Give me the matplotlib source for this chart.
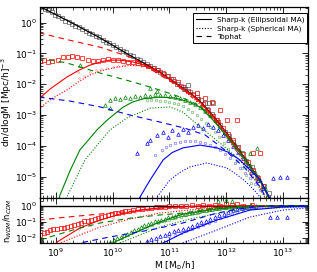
import numpy as np
import matplotlib
matplotlib.use('Agg')
import matplotlib.pyplot as plt
from matplotlib.lines import Line2D

# all values are (log10 M [Msun/h], log10 value)

# ---- upper panel: dn/dlogM ----
cdm_line = [(8.70, 0.55), (8.77, 0.47), (9.25, 0.02), (9.78, -0.50), (10.30, -1.06),
            (10.83, -1.61), (11.24, -2.13), (11.40, -2.33), (11.54, -2.56), (11.66, -2.80),
            (11.77, -3.03), (11.88, -3.28), (11.98, -3.52), (12.10, -3.82), (12.24, -4.17),
            (12.42, -4.65), (12.60, -5.12), (12.74, -5.60), (12.82, -5.90)]

cdm_pts = [(8.74, 0.52), (8.80, 0.44), (8.86, 0.40), (8.92, 0.33), (8.98, 0.26), (9.04, 0.20),
           (9.10, 0.14), (9.16, 0.06), (9.22, 0.02), (9.28, -0.04), (9.34, -0.10), (9.40, -0.15),
           (9.46, -0.22), (9.52, -0.27), (9.58, -0.33), (9.64, -0.38), (9.70, -0.44), (9.76, -0.48),
           (9.82, -0.55), (9.88, -0.62), (9.94, -0.66), (10.00, -0.74), (10.06, -0.79), (10.12, -0.85),
           (10.18, -0.92), (10.24, -0.97), (10.30, -1.04), (10.36, -1.10), (10.42, -1.17), (10.48, -1.22),
           (10.54, -1.29), (10.60, -1.34), (10.66, -1.42), (10.72, -1.47), (10.78, -1.54), (10.84, -1.60),
           (10.90, -1.68), (10.96, -1.74), (11.02, -1.83), (11.08, -1.90), (11.14, -1.98), (11.20, -2.06),
           (11.26, -2.15), (11.33, -2.03), (11.27, -2.16), (11.36, -2.25), (11.42, -2.32), (11.48, -2.41),
           (11.55, -2.50), (11.63, -2.61), (11.70, -2.61), (11.77, -2.61), (11.66, -2.80), (11.75, -2.96),
           (11.83, -3.17), (11.90, -3.33), (11.98, -3.55), (12.05, -3.70), (12.12, -3.88), (12.20, -4.08),
           (12.28, -4.25), (12.36, -4.50), (12.45, -4.70), (12.55, -5.00), (12.66, -5.30), (12.75, -5.55)]

red_solid = [(8.70, -2.47), (8.90, -2.15), (9.19, -1.77), (9.40, -1.55), (9.60, -1.38), (9.80, -1.27),
             (9.95, -1.22), (10.15, -1.22), (10.36, -1.28), (10.60, -1.40), (10.83, -1.62), (11.04, -1.88),
             (11.24, -2.14), (11.40, -2.34), (11.54, -2.58), (11.66, -2.82), (11.77, -3.05), (11.88, -3.30),
             (11.98, -3.54), (12.10, -3.84), (12.24, -4.19), (12.42, -4.67), (12.60, -5.14), (12.74, -5.62),
             (12.82, -5.92)]
red_dot = [(8.70, -2.80), (8.90, -2.50), (9.19, -2.19), (9.40, -1.92), (9.60, -1.70), (9.80, -1.56),
           (10.07, -1.45), (10.30, -1.39), (10.53, -1.40), (10.75, -1.52), (11.01, -1.85), (11.24, -2.18),
           (11.54, -2.65), (11.77, -3.12), (11.98, -3.65), (12.24, -4.32), (12.42, -4.85), (12.60, -5.35),
           (12.72, -5.80)]
red_dash = [(8.70, -0.33), (9.19, -0.55), (9.78, -0.80), (10.36, -1.15), (10.83, -1.70), (11.10, -2.00),
            (11.24, -2.18), (11.40, -2.37), (11.54, -2.59), (11.66, -2.83), (11.77, -3.06), (11.88, -3.31),
            (11.98, -3.55), (12.10, -3.85), (12.24, -4.20), (12.42, -4.68), (12.60, -5.15), (12.74, -5.63),
            (12.82, -5.93)]
red_pts = [(8.72, -1.25), (8.79, -1.22), (8.86, -1.28), (8.93, -1.25), (9.04, -1.22), (9.12, -1.12),
           (9.21, -1.12), (9.28, -1.09), (9.37, -1.12), (9.46, -1.15), (9.56, -1.22), (9.65, -1.25),
           (9.74, -1.25), (9.83, -1.22), (9.92, -1.19), (10.00, -1.22), (10.09, -1.22), (10.18, -1.25),
           (10.27, -1.28), (10.36, -1.28), (10.44, -1.31), (10.53, -1.35), (10.62, -1.41), (10.71, -1.48),
           (10.80, -1.54), (10.89, -1.64), (10.97, -1.74), (11.06, -1.83), (11.15, -1.93), (11.24, -2.09),
           (11.33, -2.22), (11.41, -2.35), (11.50, -2.48), (11.59, -2.64), (11.68, -2.84), (11.77, -3.04),
           (11.85, -3.23), (11.94, -3.43), (12.03, -3.62), (12.12, -3.81), (12.21, -4.04), (12.30, -4.27),
           (12.38, -4.53), (12.47, -4.79), (12.56, -5.05), (12.65, -5.31),
           (11.48, -2.29), (11.63, -2.45), (11.75, -2.58), (11.89, -2.84), (11.84, -3.17), (12.01, -3.17),
           (12.19, -3.17), (12.47, -4.24), (12.60, -4.24)]
red_light = [(9.40, -1.80), (9.50, -1.72), (9.60, -1.62), (9.70, -1.55), (9.80, -1.50), (9.90, -1.46),
             (10.00, -1.43), (10.10, -1.40), (10.20, -1.38), (10.30, -1.36), (10.40, -1.37), (10.50, -1.40),
             (10.60, -1.43), (10.70, -1.50), (10.80, -1.58), (10.90, -1.68), (11.00, -1.80), (11.10, -1.93),
             (11.20, -2.07), (11.30, -2.22), (9.39, -1.61)]

green_solid = [(9.03, -5.90), (9.07, -5.60), (9.25, -4.80), (9.42, -4.14), (9.60, -3.75), (9.72, -3.49),
               (9.90, -3.17), (10.18, -2.75), (10.35, -2.58), (10.55, -2.47), (10.83, -2.42), (11.10, -2.45),
               (11.30, -2.55), (11.54, -2.74), (11.77, -3.17), (11.98, -3.62), (12.24, -4.22), (12.42, -4.68),
               (12.60, -5.15), (12.74, -5.63), (12.82, -5.93)]
green_dot = [(9.15, -5.90), (9.19, -5.67), (9.51, -4.46), (9.95, -3.49), (10.25, -3.10), (10.66, -2.78),
             (11.01, -2.74), (11.24, -2.91), (11.54, -3.39), (11.89, -3.91), (12.24, -4.46), (12.51, -5.11),
             (12.68, -5.67), (12.73, -5.90)]
green_dash = [(8.70, -1.15), (9.19, -1.31), (9.78, -1.64), (10.36, -1.93), (10.83, -2.19), (11.24, -2.45),
              (11.54, -2.70), (11.77, -3.15), (11.98, -3.62), (12.24, -4.25), (12.42, -4.72), (12.60, -5.18),
              (12.74, -5.65), (12.82, -5.95)]
green_pts = [(9.95, -2.52), (10.04, -2.45), (10.13, -2.48), (10.22, -2.42), (10.30, -2.45), (10.39, -2.39),
             (10.48, -2.42), (10.57, -2.35), (10.66, -2.39), (10.74, -2.32), (10.83, -2.35), (10.92, -2.35),
             (11.01, -2.39), (11.10, -2.42), (11.19, -2.45), (11.27, -2.52), (11.36, -2.58), (11.45, -2.65),
             (11.54, -2.74), (11.63, -2.87), (11.71, -3.00), (11.80, -3.17), (11.89, -3.36), (11.98, -3.56),
             (12.07, -3.75), (12.15, -3.94), (12.24, -4.17), (12.33, -4.40), (12.42, -4.63), (12.51, -4.85),
             (12.60, -5.11), (12.68, -5.37), (9.86, -2.68), (9.95, -2.78), (9.42, -1.38), (10.66, -2.14),
             (10.78, -2.22), (12.42, -4.24), (12.54, -4.08)]
green_light = [(10.60, -2.50), (10.68, -2.53), (10.76, -2.50), (10.84, -2.56), (10.92, -2.55), (11.00, -2.58),
               (11.08, -2.62), (11.16, -2.66), (11.24, -2.72), (11.32, -2.80), (11.40, -2.90), (11.48, -3.00),
               (11.56, -3.12), (11.64, -3.25), (11.72, -3.40), (11.80, -3.55), (11.88, -3.72), (11.96, -3.90),
               (12.04, -4.10), (12.12, -4.30), (12.20, -4.50), (12.28, -4.72), (12.36, -4.95), (12.44, -5.20)]

blue_solid = [(10.42, -5.90), (10.48, -5.67), (10.66, -5.11), (10.89, -4.46), (11.05, -4.22), (11.24, -4.07),
              (11.54, -3.98), (11.84, -4.07), (12.05, -4.22), (12.24, -4.46), (12.42, -4.78), (12.60, -5.11),
              (12.74, -5.60), (12.80, -5.90)]
blue_dot = [(10.72, -5.90), (10.78, -5.67), (11.01, -5.11), (11.20, -4.85), (11.36, -4.69), (11.66, -4.56),
            (12.01, -4.72), (12.20, -4.95), (12.37, -5.21), (12.50, -5.45), (12.60, -5.67), (12.65, -5.90)]
blue_dash = [(8.70, -2.42), (9.25, -2.55), (9.78, -2.74), (10.30, -3.00), (10.83, -3.23), (11.27, -3.43),
             (11.63, -3.65), (11.98, -4.14), (12.33, -4.72), (12.60, -5.34), (12.70, -5.67), (12.76, -5.90)]
blue_pts = [(10.43, -4.24), (10.60, -3.91), (10.66, -3.82), (10.78, -3.65), (10.89, -3.56), (10.97, -3.72),
            (11.04, -3.49), (11.15, -3.62), (11.24, -3.46), (11.33, -3.56), (11.41, -3.39), (11.50, -3.33),
            (11.59, -3.43), (11.68, -3.30), (11.77, -3.39), (11.85, -3.49), (11.94, -3.65), (12.03, -3.82),
            (12.12, -4.01), (12.21, -4.20), (12.30, -4.40), (12.38, -4.63), (12.47, -4.85), (12.56, -5.11),
            (12.65, -5.37), (12.95, -5.02), (13.07, -5.02), (12.82, -5.05)]
blue_light = [(11.01, -3.98), (11.10, -3.91), (11.19, -3.88), (11.27, -3.85), (11.36, -3.85), (11.45, -3.85),
              (11.54, -3.88), (11.63, -3.91), (11.71, -3.98), (11.80, -4.04), (11.89, -4.14), (11.98, -4.27),
              (12.07, -4.40), (12.15, -4.56), (12.24, -4.72), (12.33, -4.89), (12.42, -5.05), (12.51, -5.24),
              (12.60, -5.44), (10.74, -4.30), (10.87, -4.14), (10.94, -4.04)]

# ---- lower panel: n_WDM / n_CDM ----
r_red_solid = [(8.95, -2.60), (9.02, -2.24), (9.19, -1.87), (9.42, -1.38), (9.78, -0.89), (10.13, -0.52),
               (10.48, -0.28), (10.83, -0.15), (11.54, -0.03), (13.44, 0.0)]
r_red_dot = [(8.98, -2.60), (9.07, -2.30), (9.42, -1.81), (9.78, -1.32), (10.30, -0.83), (10.83, -0.46),
             (11.54, -0.21), (12.42, -0.09), (13.44, -0.02)]
r_red_dash = [(8.70, -0.89), (9.19, -0.71), (9.78, -0.52), (10.36, -0.34), (10.83, -0.15), (11.54, -0.03),
              (12.42, 0.0), (13.44, 0.0)]
r_red_pts = [(8.72, -1.81), (8.78, -1.70), (8.84, -1.62), (8.89, -1.50), (8.95, -1.46), (9.02, -1.42),
             (9.08, -1.38), (9.14, -1.35), (9.20, -1.32), (9.26, -1.25), (9.32, -1.18), (9.38, -1.12),
             (9.44, -1.05), (9.50, -0.98), (9.56, -0.92), (9.62, -0.86), (9.68, -0.80), (9.74, -0.75),
             (9.80, -0.70), (9.86, -0.64), (9.92, -0.58), (9.98, -0.53), (10.04, -0.48), (10.10, -0.44),
             (10.16, -0.40), (10.22, -0.36), (10.28, -0.33), (10.36, -0.28), (10.44, -0.24), (10.52, -0.20),
             (10.60, -0.16), (10.68, -0.13), (10.76, -0.11), (10.84, -0.09), (10.92, -0.07), (11.00, -0.05),
             (11.10, -0.04), (11.20, -0.02), (11.30, -0.03), (11.40, 0.02), (11.50, -0.01), (11.60, 0.04),
             (11.70, -0.02), (11.80, 0.06), (11.90, 0.0), (12.00, 0.09), (12.10, 0.02), (12.20, 0.07),
             (12.30, -0.02), (12.45, 0.05)]
r_red_light = [(9.40, -1.45), (9.60, -1.20), (9.80, -0.95), (10.00, -0.75), (10.20, -0.55), (10.40, -0.40),
               (10.60, -0.28), (10.80, -0.18), (11.00, -0.12), (11.20, -0.08)]

r_green_solid = [(9.90, -2.50), (10.00, -2.30), (10.30, -1.81), (10.83, -1.01), (11.24, -0.52), (11.84, -0.21),
                 (12.42, -0.06), (13.30, 0.0), (13.44, 0.0)]
r_green_dot = [(10.05, -2.50), (10.13, -2.30), (10.48, -1.81), (10.83, -1.32), (11.36, -0.83), (11.89, -0.46),
               (12.42, -0.21), (13.30, -0.09), (13.44, -0.08)]
r_green_dash = [(8.72, -2.12), (8.89, -1.93), (9.30, -1.50), (9.78, -1.07), (10.30, -0.78), (10.83, -0.58),
                (11.24, -0.46), (11.84, -0.15), (12.42, -0.02), (13.44, 0.0)]
r_green_pts = [(9.95, -2.24), (10.02, -2.12), (10.08, -2.02), (10.14, -1.93), (10.20, -1.84), (10.26, -1.74),
               (10.32, -1.64), (10.38, -1.50), (10.44, -1.42), (10.50, -1.33), (10.56, -1.22), (10.62, -1.13),
               (10.68, -1.06), (10.74, -0.98), (10.80, -0.92), (10.86, -0.86), (10.92, -0.80), (10.98, -0.73),
               (11.04, -0.68), (11.10, -0.64), (11.16, -0.58), (11.22, -0.54), (11.28, -0.50), (11.34, -0.46),
               (11.40, -0.42), (11.46, -0.38), (11.52, -0.34), (11.58, -0.30), (11.64, -0.26), (11.70, -0.22),
               (11.76, -0.19), (11.82, -0.16), (11.88, -0.14), (11.94, -0.11), (12.00, -0.09), (12.08, -0.06),
               (12.16, -0.04), (12.24, -0.03), (12.34, 0.0), (12.44, 0.05), (11.85, 0.25), (12.00, 0.35),
               (12.10, 0.30)]
r_green_light = [(10.60, -1.35), (10.70, -1.20), (10.80, -1.08), (10.90, -0.98), (11.00, -0.88), (11.10, -0.78),
                 (11.20, -0.68), (11.30, -0.60), (11.40, -0.52), (11.50, -0.44), (11.60, -0.36), (11.70, -0.30),
                 (11.80, -0.24), (11.90, -0.18), (12.00, -0.14), (12.10, -0.10), (12.20, -0.07)]

r_blue_solid = [(10.80, -2.45), (10.89, -2.30), (11.24, -1.69), (11.84, -0.89), (12.42, -0.28), (13.00, -0.09),
                (13.44, -0.03)]
r_blue_dot = [(11.15, -2.45), (11.24, -2.30), (11.84, -1.50), (12.42, -0.71), (13.00, -0.28), (13.44, -0.14)]
r_blue_dash = [(9.30, -2.45), (9.42, -2.30), (9.95, -1.93), (10.66, -1.50), (11.24, -1.07), (11.84, -0.46),
               (12.42, -0.09), (13.00, 0.0), (13.44, 0.0)]
r_blue_pts = [(10.60, -2.20), (10.68, -2.08), (10.76, -1.98), (10.84, -1.90), (10.92, -1.78), (11.00, -1.66),
              (11.08, -1.58), (11.16, -1.52), (11.24, -1.45), (11.32, -1.36), (11.40, -1.25), (11.48, -1.12),
              (11.56, -1.00), (11.64, -0.92), (11.72, -0.82), (11.80, -0.70), (11.88, -0.60), (11.96, -0.50),
              (12.04, -0.40), (12.12, -0.30), (12.20, -0.22), (12.28, -0.16), (12.36, -0.11), (12.44, -0.06),
              (12.52, -0.03), (12.77, -0.71), (12.89, -0.71), (13.07, -0.71)]
r_blue_light = [(11.00, -1.90), (11.10, -1.80), (11.20, -1.70), (11.30, -1.58), (11.40, -1.46), (11.50, -1.33),
                (11.60, -1.20), (11.70, -1.06), (11.80, -0.92), (11.90, -0.78), (12.00, -0.64), (12.10, -0.50),
                (12.20, -0.38), (12.30, -0.28), (12.40, -0.18), (12.50, -0.10)]

xlim = (5.2e8, 2.8e13)
ylim_main = (2.0e-6, 3.2)
ylim_ratio = (4.7e-3, 2.9)

RED = '#ff0000'
GREEN = '#008000'
BLUE = '#0000ff'


def xy(pairs):
        a = np.array(pairs).T
        return 10 ** a[0], 10 ** a[1]


def lines(ax, solid, dot, dash, col):
        ax.plot(*xy(solid), color=col, lw=0.8, ls='-')
        ax.plot(*xy(dot), color=col, lw=0.8, ls=(0, (1, 1.5)))
        ax.plot(*xy(dash), color=col, lw=0.8, ls=(0, (5, 4)))


def pts(ax, pairs, col, mk, ms=2.6, alpha=1.0):
        x, y = xy(pairs)
        ax.plot(x, y, ls='none', marker=mk, ms=ms, mfc='none', mec=col, mew=0.5, alpha=alpha)


def style(ax):
        ax.set_xscale('log')
        ax.set_yscale('log')
        ax.set_xlim(*xlim)
        ax.tick_params(which='both', direction='in', top=True, right=True, labelsize=6.5, pad=2)
        ax.tick_params(which='major', length=4, width=0.6)
        ax.tick_params(which='minor', length=2, width=0.5)
        for s in ax.spines.values():
                s.set_linewidth(0.9)


def run():
        fig = plt.figure(figsize=(3.17, 2.72), dpi=100)
        ax1 = fig.add_axes([0.126, 0.272, 0.846, 0.702])
        ax2 = fig.add_axes([0.126, 0.105, 0.846, 0.167])

        # upper panel
        pts(ax1, red_light, '#ff9999', 'o', ms=1.2)
        pts(ax1, green_light, '#77bb77', 'o', ms=1.8)
        pts(ax1, blue_light, '#8080ff', 'o', ms=1.8)
        pts(ax1, cdm_pts, '0.2', 's', alpha=0.8)
        pts(ax1, red_pts, RED, 's')
        pts(ax1, green_pts, GREEN, '^')
        pts(ax1, blue_pts, BLUE, '^')
        ax1.plot(*xy(cdm_line), color='k', lw=0.9)
        lines(ax1, red_solid, red_dot, red_dash, RED)
        lines(ax1, green_solid, green_dot, green_dash, GREEN)
        lines(ax1, blue_solid, blue_dot, blue_dash, BLUE)
        style(ax1)
        ax1.set_ylim(*ylim_main)
        ax1.tick_params(labelbottom=False)
        ax1.set_ylabel('dn/dlogM [Mpc/h]$^{-3}$', fontsize=6.5)
        ax1.yaxis.set_label_coords(-0.098, 0.5)

        handles = [Line2D([], [], color='k', lw=0.8, ls='-'),
                   Line2D([], [], color='k', lw=0.8, ls=(0, (1, 1.5))),
                   Line2D([], [], color='k', lw=0.8, ls=(0, (5, 4)))]
        leg = ax1.legend(handles, ['Sharp-k (Ellipsoidal MA)', 'Sharp-k (Spherical MA)', 'Tophat'],
                         loc='upper right', bbox_to_anchor=(0.997, 0.968), borderaxespad=0,
                         fontsize=5.3, fancybox=False, framealpha=1, edgecolor='k',
                         handlelength=2.0, handletextpad=0.8, labelspacing=0.3, borderpad=0.4)
        leg.get_frame().set_linewidth(0.7)

        # lower panel
        pts(ax2, r_red_light, '#ff9999', 'o', ms=1.2)
        pts(ax2, r_green_light, '#77bb77', 'o', ms=1.8)
        pts(ax2, r_blue_light, '#8080ff', 'o', ms=1.8)
        pts(ax2, r_red_pts, RED, 's')
        pts(ax2, r_green_pts, GREEN, '^')
        pts(ax2, r_blue_pts, BLUE, '^')
        ax2.axhline(1.0, color='k', lw=1.0)
        lines(ax2, r_red_solid, r_red_dot, r_red_dash, RED)
        lines(ax2, r_green_solid, r_green_dot, r_green_dash, GREEN)
        lines(ax2, r_blue_solid, r_blue_dot, r_blue_dash, BLUE)
        style(ax2)
        ax2.set_ylim(*ylim_ratio)
        ax2.set_ylabel('n$_{WDM}$/n$_{CDM}$', fontsize=6)
        ax2.yaxis.set_label_coords(-0.098, 0.5)
        ax2.set_xlabel('M [M$_{\\odot}$/h]', fontsize=6.5, labelpad=0.5)

        fig.savefig('out.png', dpi=100)


if __name__ == '__main__':
        run()
